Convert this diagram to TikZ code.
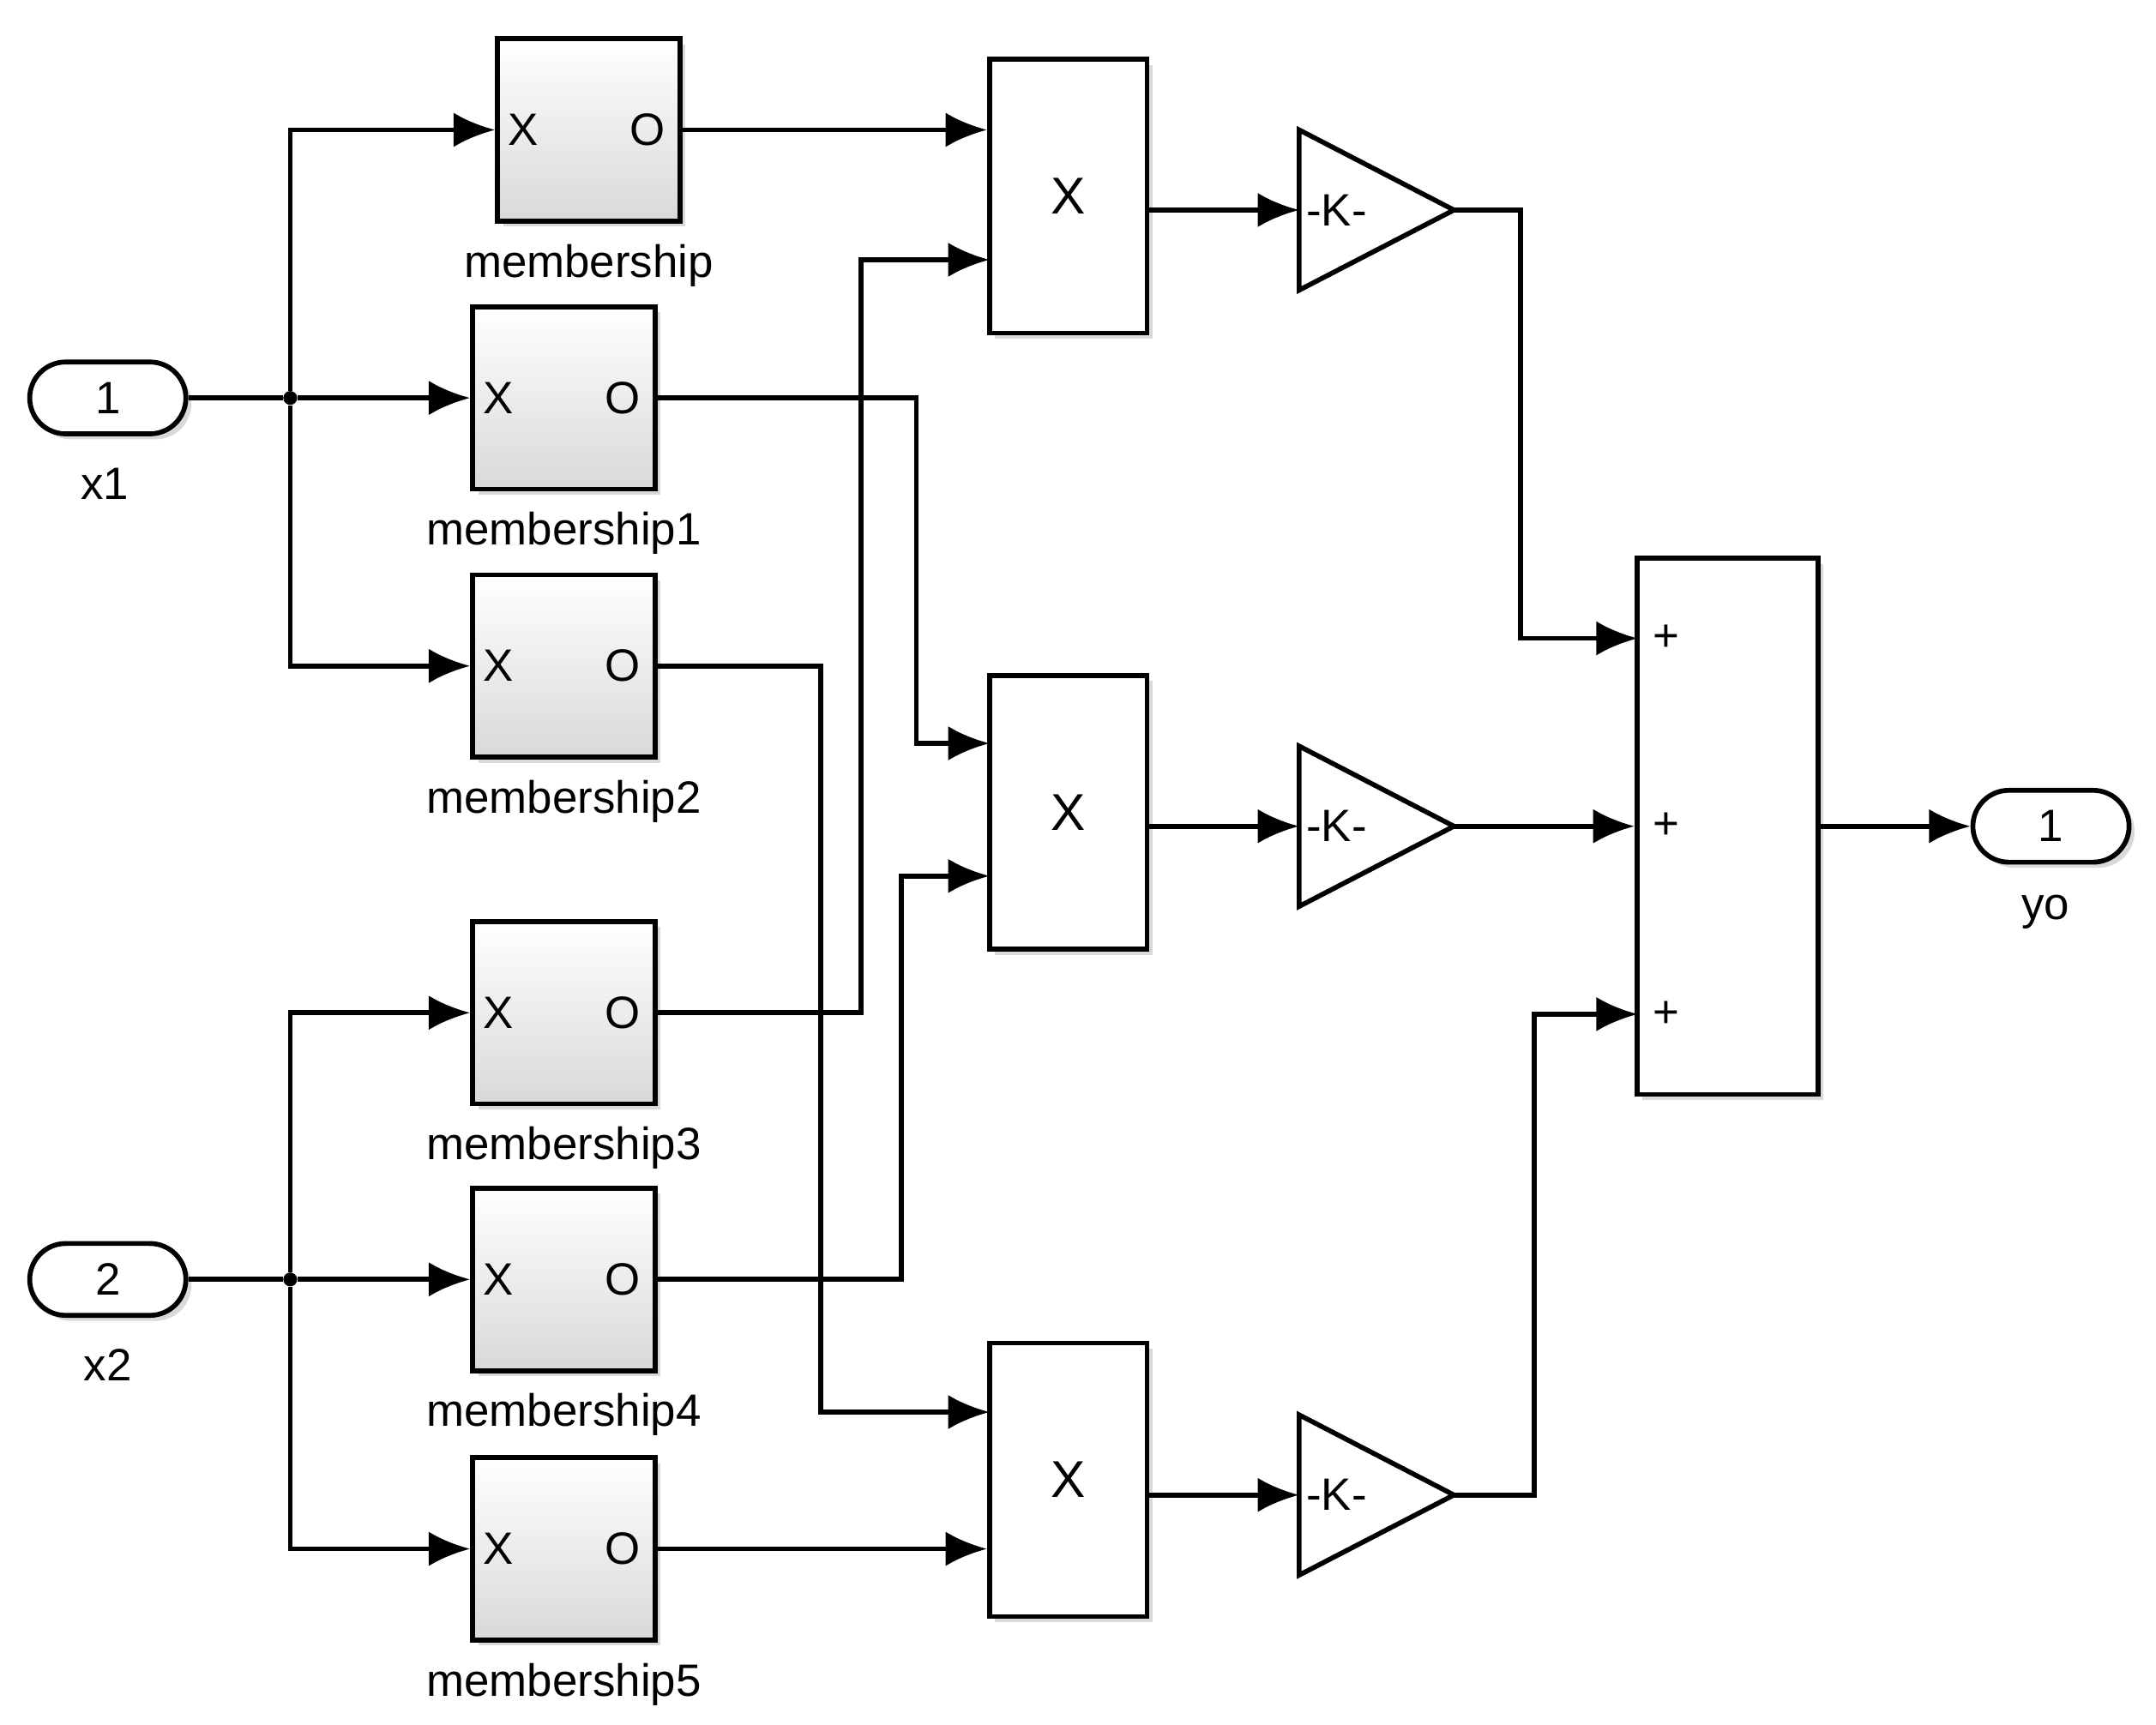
\documentclass[tikz,border=0pt]{standalone}
\usepackage{fontspec}
\setmainfont{Liberation Sans}
\usetikzlibrary{arrows.meta,shadows}
\begin{document}
\begin{tikzpicture}[x=0.03cm,y=-0.03cm,
  every node/.style={font=\fontsize{28}{34}\selectfont},
  wire/.style={line width=3pt},
  arr/.style={wire,-{Latex[length=0.9cm,width=0.75cm]}},
  mem/.style={draw,line width=3pt,minimum width=3.96cm,minimum height=3.96cm,top color=white,bottom color=gray!30,drop shadow={shadow xshift=0.12cm,shadow yshift=-0.12cm,opacity=0.3},inner sep=0},
  prod/.style={draw,fill=white,line width=3pt,minimum width=3.42cm,minimum height=5.94cm,drop shadow={shadow xshift=0.12cm,shadow yshift=-0.12cm,opacity=0.3}},
  port/.style={draw,fill=white,line width=3pt,rounded corners=0.78cm,minimum width=3.39cm,minimum height=1.56cm,drop shadow={shadow xshift=0.12cm,shadow yshift=-0.12cm,opacity=0.3}},
  dot/.style={circle,fill,inner sep=0,minimum size=0.3cm}]
\useasboundingbox (0,0) rectangle (1560,1248);
% ports
\node[port] (in1) at (78,288) {1};
\node at (76,350) {x1};
\node[port] (in2) at (78,926) {2};
\node at (78,988) {x2};
\node[port] (out) at (1484,598) {1};
\node at (1480,660) {yo};
% membership blocks
\foreach \n/\x/\y/\lab in {m0/426/94/membership, m1/408/288/membership1, m2/408/482/membership2, m3/408/733/membership3, m4/408/926/membership4, m5/408/1121/membership5}{
  \node[mem] (\n) at (\x,\y) {};
  \node[anchor=west] at ([xshift=0.15cm]\n.west) {X};
  \node[anchor=east] at ([xshift=-0.25cm]\n.east) {O};
  \node at (\x,\y+98) {\lab};
}
% products
\node[prod] (p1) at (773,142) {\fontsize{32}{32}\selectfont X};
\node[prod] (p2) at (773,588) {\fontsize{32}{32}\selectfont X};
\node[prod] (p3) at (773,1071) {\fontsize{32}{32}\selectfont X};
% gains
\foreach \g/\y in {g1/152,g2/598,g3/1082}{
  \draw[line width=3pt,fill=white] (940,\y-58) -- (1052,\y) -- (940,\y+58) -- cycle;
  \coordinate (\g i) at (940,\y);
  \coordinate (\g o) at (1052,\y);
  \node[anchor=west,inner sep=0] at (945,\y) {-K-};
}
% sum
\node[draw,fill=white,line width=3pt,minimum width=3.93cm,minimum height=11.64cm,drop shadow={shadow xshift=0.12cm,shadow yshift=-0.12cm,opacity=0.3}] (sum) at (1250,598) {};
\foreach \y in {462,598,734}{\node[anchor=west,inner sep=0] at (1196,\y) {+};}
% branches
\node[dot] (b1) at (210,288) {};
\node[dot] (b2) at (210,926) {};
\draw[wire] (in1.east) -- (b1);
\draw[wire] (in2.east) -- (b2);
\draw[arr] (b1) |- (m0.west);
\draw[arr] (b1) -- (m1.west);
\draw[arr] (b1) |- (m2.west);
\draw[arr] (b2) |- (m3.west);
\draw[arr] (b2) -- (m4.west);
\draw[arr] (b2) |- (m5.west);
% membership to products
\draw[arr] (m0.east) -- (p1.west |- m0.east);
\draw[arr] (m1.east) -- (663,288) |- (716,538);
\draw[arr] (m2.east) -- (594,482) |- (716,1022);
\draw[arr] (m3.east) -- (623,733) |- (716,188);
\draw[arr] (m4.east) -- (652,926) |- (716,634);
\draw[arr] (m5.east) -- (p3.west |- m5.east);
% products to gains
\draw[arr] (p1.east |- g1i) -- (g1i);
\draw[arr] (p2.east |- g2i) -- (g2i);
\draw[arr] (p3.east |- g3i) -- (g3i);
% gains to sum
\draw[arr] (g1o) -- (1100,152) |- (1185,462);
\draw[arr] (g2o) -- (sum.west |- g2o);
\draw[arr] (g3o) -- (1110,1082) |- (1185,734);
\draw[arr] (sum.east) -- (out.west);
\end{tikzpicture}
\end{document}
